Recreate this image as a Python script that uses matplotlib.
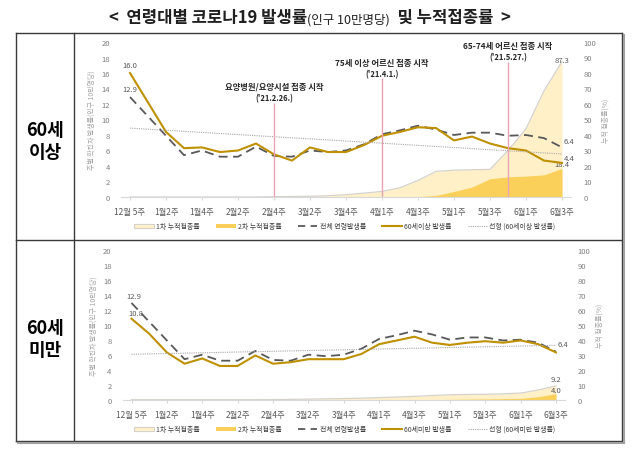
import numpy as np
import matplotlib
matplotlib.use("Agg")
import matplotlib.pyplot as plt
from matplotlib.lines import Line2D
from matplotlib.patches import Patch

plt.rcParams['font.family'] = ['Noto Sans CJK KR', 'DejaVu Sans']

# ── Data ──────────────────────────────────────────────────────────────────────
tick_labels = ["12월 5주", "1월2주", "1월4주", "2월2주", "2월4주", "3월2주", "3월4주",
               "4월1주", "4월3주", "5월1주", "5월3주", "6월1주", "6월3주"]
weeks = np.arange(25)

# weekly incidence per 100k
total_rate   = [12.9, 10.4, 7.9, 5.4, 6.0, 5.2, 5.2, 6.5, 5.3, 5.2, 6.0, 5.8, 6.0,
                6.8, 8.1, 8.6, 9.2, 8.7, 8.0, 8.3, 8.3, 7.9, 8.0, 7.6, 6.4]
rate_60plus  = [16.0, 12.2, 8.4, 6.3, 6.4, 5.8, 6.0, 6.9, 5.5, 4.7, 6.4, 5.8, 5.8,
                6.7, 7.9, 8.4, 9.0, 8.9, 7.3, 7.8, 6.9, 6.3, 6.0, 4.7, 4.4]
rate_60minus = [10.8, 8.8, 6.3, 4.8, 5.5, 4.5, 4.5, 5.9, 4.8, 5.0, 5.4, 5.4, 5.4,
                6.1, 7.4, 7.9, 8.4, 7.6, 7.3, 7.6, 7.8, 7.6, 7.9, 7.4, 6.3]

# cumulative vaccination (%)
dose1_60plus  = [0, 0, 0, 0, 0, 0, 0, 0, 0.2, 0.3, 0.5, 0.8, 1.5,
                 2.5, 3.6, 6.0, 10.7, 16.5, 17.3, 17.6, 17.8, 30.0, 44.0, 68.5, 87.3]
dose2_60plus  = [0, 0, 0, 0, 0, 0, 0, 0, 0, 0, 0, 0, 0,
                 0, 0, 0, 0.3, 1.0, 3.6, 6.4, 11.8, 13.0, 13.5, 14.3, 18.4]
dose1_60minus = [0, 0, 0, 0, 0, 0, 0, 0, 0.1, 0.2, 0.4, 0.6, 0.8,
                 1.0, 1.4, 1.8, 2.2, 2.8, 3.3, 3.5, 3.6, 3.9, 4.4, 6.5, 9.2]
dose2_60minus = [0, 0, 0, 0, 0, 0, 0, 0, 0, 0, 0, 0, 0,
                 0, 0, 0, 0, 0, 0.2, 0.4, 0.5, 0.7, 0.9, 2.0, 4.0]

# ── Style ─────────────────────────────────────────────────────────────────────
W, H = 640, 460
CREAM = "#FFF0C8"
CREAM_EDGE = "#D5D2CC"
GOLD_FILL = "#FAD05A"
GOLD_LINE = "#BF9000"
DASH = "#595959"
TREND = "#A6A6A6"
TICK = "#7F7F7F"
BORDER = "#3A3A3A"


def fx(x):
    return x / W


def fy(y):
    return 1 - y / H


fig = plt.figure(figsize=(6.4, 4.6), dpi=100)

# ── Table frame ───────────────────────────────────────────────────────────────
left, right, top, bottom = 16, 622, 34, 442
col, row = 74, 241
for (xa, ya, xb, yb) in [(left, top, right, top), (left, bottom, right, bottom),
                         (left, top, left, bottom), (right, top, right, bottom),
                         (col, top, col, bottom), (left, row, right, row)]:
    fig.add_artist(Line2D([fx(xa), fx(xb)], [fy(ya), fy(yb)], color=BORDER, lw=1.0))
# soft shadow
fig.add_artist(Line2D([fx(right + 1.5)] * 2, [fy(top + 2), fy(bottom + 1.5)],
                      color="#A0A0A0", lw=1.5))
fig.add_artist(Line2D([fx(left + 2), fx(right + 1.5)], [fy(bottom + 1.5)] * 2,
                      color="#A0A0A0", lw=1.5))

fig.text(fx(45), fy(141), "60세\n이상", fontsize=13, fontweight="bold",
         ha="center", va="center", linespacing=1.2)
fig.text(fx(45), fy(340), "60세\n미만", fontsize=13, fontweight="bold",
         ha="center", va="center", linespacing=1.2)


def make_axes(x0, x24, y0, y20):
    step = (x24 - x0) / 24
    l = x0 - step / 2
    r = x24 + step / 2
    return fig.add_axes([fx(l), fy(y0), (r - l) / W, (y0 - y20) / H])


def draw_panel(ax, rate, dose1, dose2, age):
    ax2 = ax.twinx()
    ax2.fill_between(weeks, dose1, color=CREAM, lw=0)
    ax2.plot(weeks, dose1, color=CREAM_EDGE, lw=0.9)
    ax2.fill_between(weeks, dose2, color=GOLD_FILL, lw=0)
    ax2.set_ylim(0, 100)
    ax2.set_yticks(range(0, 101, 10))
    ax2.tick_params(axis="y", length=0, labelsize=5.5, labelcolor=TICK, pad=9)
    ax2.set_ylabel("누적 접종률(%)", fontsize=5, color=TREND, rotation=90, labelpad=4)
    for s in ax2.spines.values():
        s.set_visible(False)

    ax.set_zorder(ax2.get_zorder() + 1)
    ax.patch.set_visible(False)
    ax.plot(weeks, total_rate, color=DASH, lw=1.3, dashes=(5, 3))
    ax.plot(weeks, rate, color=GOLD_LINE, lw=1.5)
    trend = np.polyval(np.polyfit(weeks, rate, 1), weeks)
    ax.plot(weeks, trend, color=TREND, lw=0.8, ls=(0, (1, 1)))

    ax.set_xlim(-0.5, 24.5)
    ax.set_ylim(0, 20)
    ax.set_yticks(range(0, 21, 2))
    ax.set_xticks(weeks[::2])
    ax.set_xticklabels(tick_labels)
    ax.tick_params(axis="y", length=0, labelsize=5.5, labelcolor=TICK, pad=8)
    ax.tick_params(axis="x", length=2.5, color="#D9D9D9", labelsize=6,
                   labelcolor="#595959", pad=5)
    ax.set_ylabel("주별 확진자 발생률(인구 10만명당)", fontsize=5, color=TREND, labelpad=4)
    for k in ["top", "left", "right"]:
        ax.spines[k].set_visible(False)
    ax.spines["bottom"].set_color("#D9D9D9")

    handles = [
        Patch(facecolor=CREAM, edgecolor=CREAM_EDGE, lw=0.8),
        Patch(facecolor=GOLD_FILL, edgecolor="none"),
        Line2D([], [], color=DASH, lw=1.3, dashes=(4, 3)),
        Line2D([], [], color=GOLD_LINE, lw=1.5),
        Line2D([], [], color=TREND, lw=0.8, ls=(0, (1, 1))),
    ]
    labels = ["1차 누적접종률", "2차 누적접종률", "전체 연령발생률",
              f"{age} 발생률", f"선형 ({age} 발생률)"]
    return ax2, handles, labels


def add_legend(handles, labels, ypx):
    leg = fig.legend(handles, labels, loc="center", bbox_to_anchor=(fx(345), fy(ypx)),
                     ncol=5, frameon=False, fontsize=5, handlelength=2.8,
                     handleheight=0.5, columnspacing=2.4, handletextpad=0.3)
    for t in leg.get_texts():
        t.set_color("#404040")


# ── Top panel: 60세 이상 ──────────────────────────────────────────────────────
ax = make_axes(130, 562, 198, 43)
ax2, handles, labels = draw_panel(ax, rate_60plus, dose1_60plus, dose2_60plus, "60세이상")
add_legend(handles, labels, 227)

lab = dict(fontsize=5.5, color="#595959")
ax.annotate("16.0", (0, rate_60plus[0]), xytext=(0, 3), textcoords="offset points",
            ha="center", va="bottom", **lab)
ax.annotate("12.9", (0, total_rate[0]), xytext=(0, 3), textcoords="offset points",
            ha="center", va="bottom", **lab)
ax.annotate("6.4", (24, total_rate[-1]), xytext=(1, 2), textcoords="offset points",
            ha="left", va="bottom", **lab)
ax.annotate("4.4", (24, rate_60plus[-1]), xytext=(1, 1), textcoords="offset points",
            ha="left", va="bottom", **lab)
ax2.annotate("18.4", (24, dose2_60plus[-1]), xytext=(0, 0), textcoords="offset points",
             ha="center", va="bottom", **lab)
ax2.annotate("87.3", (24, dose1_60plus[-1]), xytext=(0, 1), textcoords="offset points",
             ha="center", va="center", **lab)

events = [(8, 12.1, "요양병원/요양시설 접종 시작", "('21.2.26.)", 14.3),
          (14, 15.3, "75세 이상 어르신 접종 시작", "('21.4.1.)", 17.4),
          (21, 17.4, "65-74세 어르신 접종 시작", "('21.5.27.)", 19.6)]
for xi, top_y, name, date, ty in events:
    ax.vlines(xi, 0, top_y, color="#E8A3B5", lw=1.0)
    ax.text(xi, ty, name, ha="center", va="center", fontsize=6, fontweight="bold",
            color="#262626")
    ax.text(xi, ty - 1.45, date, ha="center", va="center", fontsize=5.5,
            fontweight="bold", color="#262626")

# ── Bottom panel: 60세 미만 ───────────────────────────────────────────────────
axb = make_axes(131.5, 556, 400.7, 250.7)
axb2, handles, labels = draw_panel(axb, rate_60minus, dose1_60minus, dose2_60minus, "60세미만")
add_legend(handles, labels, 430)

axb.annotate("12.9", (0, total_rate[0]), xytext=(2, 2), textcoords="offset points",
             ha="center", va="bottom", **lab)
axb.annotate("10.8", (0, rate_60minus[0]), xytext=(3, 1), textcoords="offset points",
             ha="center", va="bottom", **lab)
axb.annotate("6.4", (24, total_rate[-1]), xytext=(1, 3), textcoords="offset points",
             ha="left", va="bottom", **lab)
axb2.annotate("9.2", (24, dose1_60minus[-1]), xytext=(0, 2), textcoords="offset points",
              ha="center", va="bottom", **lab)
axb2.annotate("4.0", (24, dose2_60minus[-1]), xytext=(0, 0), textcoords="offset points",
              ha="center", va="bottom", **lab)

# ── Title (mixed sizes, chained left to right) ───────────────────────────────
t1 = fig.text(fx(109), fy(27), "<  연령대별 코로나19 발생률", fontsize=12,
              fontweight="bold", color="#202020", ha="left", va="bottom")
t2 = ax.annotate("(인구 10만명당)", xy=(1, 0), xycoords=t1, fontsize=9,
                 color="#202020", va="bottom", ha="left", annotation_clip=False)
t3 = ax.annotate("  및 누적접종률  >", xy=(1, 0), xycoords=t2, fontsize=12,
                 fontweight="bold", color="#202020", va="bottom", ha="left",
                 annotation_clip=False)

fig.savefig("out.png", dpi=100)
